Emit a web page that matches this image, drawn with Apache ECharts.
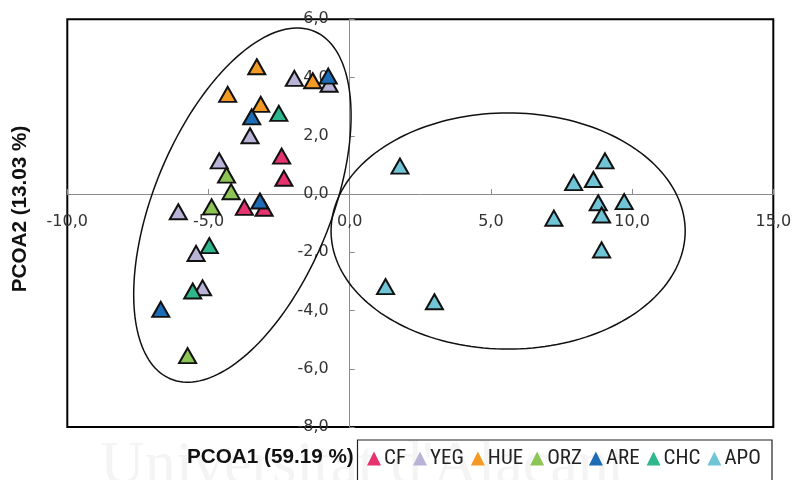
<!DOCTYPE html>
<html><head><meta charset="utf-8">
<script src="https://cdn.jsdelivr.net/npm/echarts@6/dist/echarts.min.js"></script>
<style>html,body{margin:0;padding:0;background:#fff}#c{width:794px;height:480px}</style>
</head><body><div id="c"></div>
<script>
// ---- data ----
const groups = ['CF', 'YEG', 'HUE', 'ORZ', 'ARE', 'CHC', 'APO'];
const CF  = [[-2.41, 1.30], [-2.33, 0.54], [-3.73, -0.46], [-3.03, -0.49]];
const YEG = [[-1.96, 3.97], [-0.73, 3.77], [-3.53, 2.00], [-4.62, 1.14], [-6.07, -0.61], [-5.44, -2.04], [-5.21, -3.22]];
const HUE = [[-3.29, 4.37], [-1.31, 3.89], [-4.32, 3.42], [-3.15, 3.08]];
const ORZ = [[-4.36, 0.65], [-4.20, 0.08], [-4.89, -0.44], [-5.74, -5.55]];
const ARE = [[-0.76, 4.05], [-3.47, 2.65], [-3.18, -0.24], [-6.69, -3.96]];
const CHC = [[-2.51, 2.77], [-4.97, -1.77], [-5.56, -3.33]];
const APO = [[1.78, 0.96], [9.04, 1.14], [7.93, 0.39], [8.63, 0.50], [8.80, -0.30], [9.72, -0.26], [8.92, -0.72], [7.23, -0.83], [8.92, -1.92], [1.27, -3.18], [3.00, -3.70]];
const seriesData = [CF, YEG, HUE, ORZ, ARE, CHC, APO];
// axis ticks: [min, max, interval]
const xTicks = [-10, 15, 5];
const yTicks = [-8, 6, 2];
const xTitle = 'PCOA1 (59.19 %)';
const yTitle = 'PCOA2 (13.03 %)';
const watermark = "Universitat d'Alacant";
// grouping ellipses: centre (x, y), semi-axes in x-axis units, rotation in degrees
const ellipseCx = [-3.80, 5.61];
const ellipseCy = [-0.38, -1.27];
const ellipseA = [6.66, 6.27];
const ellipseB = [3.13, 4.18];
const ellipseAngle = [67.6, 0];

// ---- layout / styles ----
const W = 794, H = 480;
const G = { left: 67.3, right: 20.7, top: 19.3, bottom: 53 };
const gw = W - G.left - G.right, gh = H - G.top - G.bottom;
// axes cross at zero: shift each axis from the grid edge to the zero line
const xAxisOffset = -gh * (0 - yTicks[0]) / (yTicks[1] - yTicks[0]);
const yAxisOffset = -gw * (0 - xTicks[0]) / (xTicks[1] - xTicks[0]);

const colors = ['#E5336F', '#B8B3D7', '#F39A25', '#8DC456', '#1C6DB5', '#2EB68D', '#6FC5D6'];
const fmt = v => v.toFixed(1).replace('.', ',');
const labelFont = { fontFamily: 'DejaVu Sans', fontSize: 16, color: '#333' };

const ellipseData = ellipseCx.map((cx, i) => [cx, ellipseCy[i], ellipseA[i], ellipseB[i], ellipseAngle[i]]);

const series = groups.map((g, i) => ({
  name: g, type: 'scatter', data: seriesData[i],
  symbol: 'triangle', symbolSize: [17, 15],
  itemStyle: { color: colors[i], borderColor: '#111', borderWidth: 2, opacity: 1 },
  z: 3
}));
series.unshift({
  type: 'custom', name: 'ellipses', data: ellipseData, silent: true, clip: false, z: 2,
  renderItem: function (params, api) {
    const c = api.coord([api.value(0), api.value(1)]);
    const unit = api.size([1, 0])[0];
    const a = api.value(2) * unit, b = api.value(3) * unit;
    const t = api.value(4) * Math.PI / 180;
    const pts = [];
    for (let k = 0; k < 180; k++) {
      const s = k / 180 * Math.PI * 2;
      const ex = a * Math.cos(s), ey = b * Math.sin(s);
      pts.push([c[0] + ex * Math.cos(t) - ey * Math.sin(t), c[1] - (ex * Math.sin(t) + ey * Math.cos(t))]);
    }
    return { type: 'polygon', shape: { points: pts }, style: { fill: 'none', stroke: '#111', lineWidth: 1.5 } };
  }
});

const chart = echarts.init(document.getElementById('c'));
chart.setOption({
  animation: false,
  backgroundColor: '#fff',
  grid: { left: G.left, right: G.right, top: G.top, bottom: G.bottom, show: true, borderColor: '#000', borderWidth: 2, backgroundColor: 'transparent', outerBoundsMode: 'none' },
  xAxis: {
    type: 'value', min: xTicks[0], max: xTicks[1], interval: xTicks[2],
    position: 'bottom', offset: xAxisOffset,
    axisLine: { onZero: false, lineStyle: { color: '#8c8c8c', width: 1 } },
    axisTick: { show: true, inside: true, length: 5, lineStyle: { color: '#8c8c8c' } },
    splitLine: { show: false },
    axisLabel: Object.assign({ formatter: fmt, margin: 20, showMinLabel: true, showMaxLabel: true }, labelFont)
  },
  yAxis: {
    type: 'value', min: yTicks[0], max: yTicks[1], interval: yTicks[2],
    position: 'left', offset: yAxisOffset,
    axisLine: { onZero: false, lineStyle: { color: '#8c8c8c', width: 1 } },
    axisTick: { show: true, inside: true, length: 5, lineStyle: { color: '#8c8c8c' } },
    splitLine: { show: false },
    axisLabel: Object.assign({ formatter: fmt, margin: 21, showMinLabel: true, showMaxLabel: true }, labelFont)
  },
  legend: {
    data: groups, left: 367, top: 448, padding: 0,
    icon: 'triangle', itemWidth: 14, itemHeight: 14, itemGap: 7,
    itemStyle: { borderWidth: 0 },
    textStyle: { fontFamily: "'Liberation Sans Narrow', 'Roboto Condensed', Roboto, sans-serif", fontSize: 21, color: '#222', padding: [0, 0, 0, -2] }
  },
  graphic: [
    { type: 'text', z: -10, silent: true, left: 100, top: 436,
      style: { text: watermark, fontFamily: 'Liberation Serif', fontSize: 62, fill: '#f4f4f4' } },
    { type: 'text', z: 10, left: 187, top: 447,
      style: { text: xTitle, fontFamily: 'Liberation Sans', fontWeight: 'bold', fontSize: 20.7, fill: '#111' } },
    { type: 'text', z: 10, x: 20, y: 209, rotation: Math.PI / 2,
      style: { text: yTitle, fontFamily: 'Liberation Sans', fontWeight: 'bold', fontSize: 20.7, fill: '#111', align: 'center', verticalAlign: 'middle' } },
    { type: 'rect', z: 10, silent: true, shape: { x: 357.5, y: 440, width: 414.5, height: 60 },
      style: { fill: 'none', stroke: '#222', lineWidth: 1.2 } }
  ],
  series: series
});
</script></body></html>
